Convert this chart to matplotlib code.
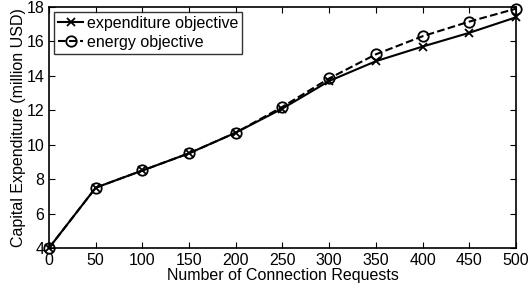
import matplotlib
matplotlib.use("Agg")
import matplotlib.pyplot as plt

plt.rcParams['font.family'] = ['Liberation Sans', 'DejaVu Sans']

requests = [0, 50, 100, 150, 200, 250, 300, 350, 400, 450, 500]
expenditure_obj = [4.0, 7.5, 8.5, 9.5, 10.7, 12.1, 13.7, 14.85, 15.7, 16.5, 17.4]
energy_obj = [4.0, 7.5, 8.5, 9.5, 10.7, 12.2, 13.85, 15.25, 16.3, 17.15, 17.9]

fig = plt.figure(figsize=(5.3, 2.91), dpi=100)
ax = fig.add_axes([0.0925, 0.148, 0.881, 0.828])

ax.plot(requests, expenditure_obj, color='black', linestyle='-', linewidth=1.5,
        marker='x', markersize=6, markeredgewidth=1.3, label='expenditure objective',
        clip_on=False, zorder=3)
ax.plot(requests, energy_obj, color='black', linestyle='--', linewidth=1.5,
        marker='o', markersize=7.5, markerfacecolor='none', markeredgewidth=1.3,
        label='energy objective', clip_on=False, zorder=3)

ax.set_xlim(0, 500)
ax.set_ylim(4, 18)
ax.set_xticks(range(0, 501, 50))
ax.set_yticks(range(4, 19, 2))
ax.tick_params(direction='in', top=True, right=True, labelsize=11.5, length=4, width=0.8)
for s in ax.spines.values():
    s.set_linewidth(1.2)

ax.set_xlabel('Number of Connection Requests', fontsize=11.5, labelpad=0)
ax.set_ylabel('Capital Expenditure (million USD)', fontsize=11.5, labelpad=0)

leg = ax.legend(loc='upper left', fontsize=11.5, frameon=True, fancybox=False,
                borderaxespad=0.3, borderpad=0.25, handlelength=1.6, handletextpad=0.2,
                labelspacing=0.25)
leg.get_frame().set_edgecolor('black')
leg.get_frame().set_linewidth(1.0)
leg.set_zorder(5)

fig.savefig('out.png', dpi=100)
